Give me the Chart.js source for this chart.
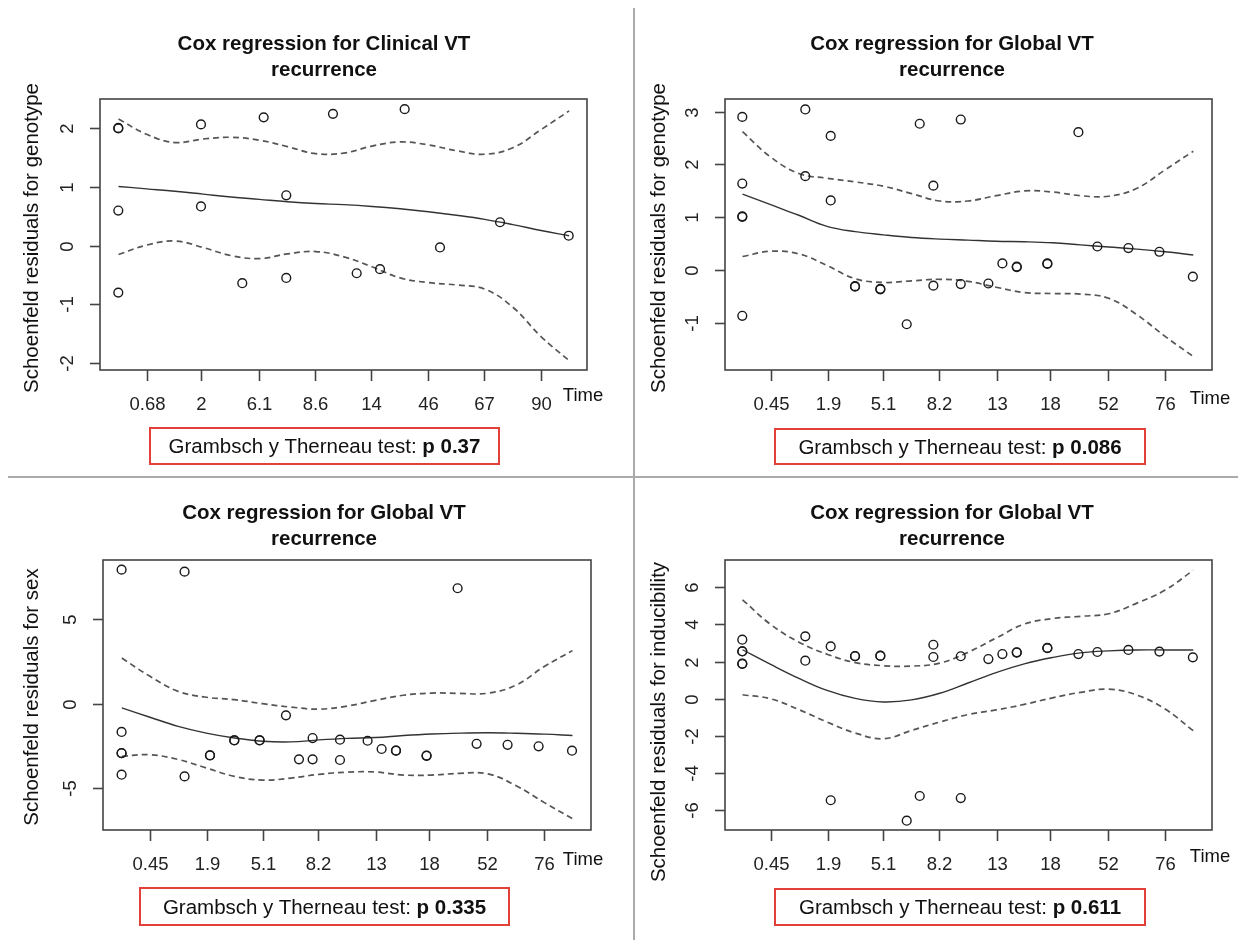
<!DOCTYPE html>
<html>
<head>
<meta charset="utf-8">
<script src="https://cdn.jsdelivr.net/npm/chart.js@4.4.1/dist/chart.umd.min.js"></script>
<style>
  body { margin: 0; background: #fff; width: 1238px; height: 940px; position: relative; overflow: hidden;
         font-family: "Liberation Sans", Arial, sans-serif; color: #111; }
  canvas { position: absolute; }
  .title { position: absolute; width: 500px; text-align: center; font-weight: bold; font-size: 20.5px; line-height: 26px; }
  .ylab { position: absolute; width: 420px; height: 24px; line-height: 24px; text-align: center; font-size: 20.5px;
          transform: rotate(-90deg); white-space: nowrap; }
  .time { position: absolute; width: 60px; height: 20px; line-height: 20px; text-align: center; font-size: 18.5px; }
  .test { position: absolute; box-sizing: border-box; border: 2px solid #e3403a; text-align: center; font-size: 20.5px;
          display: flex; align-items: center; justify-content: center; white-space: nowrap; }
  .vline { position: absolute; left: 633px; top: 8px; width: 2px; height: 932px; background: #aaa; }
  .hline { position: absolute; left: 8px; top: 476px; width: 1230px; height: 2px; background: #aaa; }
</style>
</head>
<body>
<div class="vline"></div>
<div class="hline"></div>

<canvas id="c1" width="620" height="470" style="left:0;top:0"></canvas>
<canvas id="c2" width="598" height="470" style="left:640px;top:0"></canvas>
<canvas id="c3" width="620" height="460" style="left:0;top:480px"></canvas>
<canvas id="c4" width="598" height="460" style="left:640px;top:480px"></canvas>

<div class="title" style="left:74px;top:30px">Cox regression for Clinical VT<br>recurrence</div>
<div class="title" style="left:702px;top:30px">Cox regression for Global VT<br>recurrence</div>
<div class="title" style="left:74px;top:499px">Cox regression for Global VT<br>recurrence</div>
<div class="title" style="left:702px;top:499px">Cox regression for Global VT<br>recurrence</div>

<div class="ylab" style="left:-179px;top:226px">Schoenfeld residuals for genotype</div>
<div class="ylab" style="left:448px;top:226px">Schoenfeld residuals for genotype</div>
<div class="ylab" style="left:-179px;top:685px">Schoenfeld residuals for sex</div>
<div class="ylab" style="left:448px;top:710px">Schoenfeld residuals for inducibility</div>

<div class="time" style="left:553px;top:385px">Time</div>
<div class="time" style="left:1180px;top:388px">Time</div>
<div class="time" style="left:553px;top:849px">Time</div>
<div class="time" style="left:1180px;top:846px">Time</div>

<div class="test" style="left:149px;top:427px;width:351px;height:38px">Grambsch y Therneau test:&nbsp;<b>p 0.37</b></div>
<div class="test" style="left:774px;top:428px;width:372px;height:37px">Grambsch y Therneau test:&nbsp;<b>p 0.086</b></div>
<div class="test" style="left:139px;top:887px;width:371px;height:39px">Grambsch y Therneau test:&nbsp;<b>p 0.335</b></div>
<div class="test" style="left:774px;top:888px;width:372px;height:38px">Grambsch y Therneau test:&nbsp;<b>p 0.611</b></div>

<script>
// x is the transformed time (axis position), labels are the original times
const gridX = [0.5, 1, 1.5, 2, 2.5, 3, 3.5, 4, 4.5, 5, 5.5, 6, 6.5, 7, 7.5, 8, 8.5]

// clinical VT recurrence, genotype
const clinTickPos = [1, 1.964, 2.988, 3.988, 4.977, 6.0, 6.994, 8.0]
const clinTickLabels = ['0.68', '2', '6.1', '8.6', '14', '46', '67', '90']
const clinYTicks = [-2, -1, 0, 1, 2]
const clinTime = [0.496, 0.496, 0.496, 0.496, 1.964, 1.964, 2.697, 3.077, 3.478, 3.478, 4.307, 4.728, 5.142, 5.580, 6.207, 7.273, 8.492]
const clinResid = [2.00, 2.01, 0.60, -0.80, 2.07, 0.67, -0.64, 2.19, 0.86, -0.55, 2.25, -0.47, -0.40, 2.33, -0.03, 0.40, 0.17]
const clinFit = [1.01, 0.97, 0.93, 0.88, 0.83, 0.79, 0.75, 0.72, 0.70, 0.67, 0.63, 0.58, 0.52, 0.45, 0.36, 0.26, 0.17]
const clinUpper = [2.16, 1.90, 1.76, 1.82, 1.85, 1.80, 1.69, 1.57, 1.58, 1.70, 1.77, 1.72, 1.62, 1.56, 1.67, 1.98, 2.30]
const clinLower = [-0.15, 0.01, 0.08, -0.03, -0.17, -0.22, -0.14, -0.10, -0.19, -0.36, -0.55, -0.63, -0.67, -0.74, -1.05, -1.55, -1.96]

// global VT recurrence (same event times for the three covariates)
const globTickPos = [1, 2.01, 3.0, 3.99, 5.02, 5.96, 6.98, 8.0]
const globTickLabels = ['0.45', '1.9', '5.1', '8.2', '13', '18', '52', '76']
const globTime = [0.496, 0.496, 0.496, 0.496, 0.496, 1.614, 1.614, 2.065, 2.065, 2.497, 2.497, 2.946, 2.946, 3.414, 3.645,
  3.887, 3.887, 4.373, 4.373, 4.863, 5.112, 5.367, 5.367, 5.910, 5.910, 6.461, 6.798, 7.348, 7.899, 8.492]

const genoYTicks = [-1, 0, 1, 2, 3]
const genoResid = [2.90, 1.64, 1.02, 1.01, -0.86, 3.04, 1.78, 2.54, 1.32, -0.31, -0.30, -0.36, -0.35, -1.02, 2.77,
  1.60, -0.29, 2.85, -0.26, -0.25, 0.13, 0.07, 0.06, 0.12, 0.13, 2.61, 0.45, 0.42, 0.35, -0.12]
const genoFit = [1.44, 1.24, 1.04, 0.83, 0.73, 0.67, 0.62, 0.59, 0.57, 0.55, 0.54, 0.52, 0.48, 0.44, 0.40, 0.35, 0.29]
const genoUpper = [2.62, 2.14, 1.83, 1.74, 1.67, 1.59, 1.45, 1.31, 1.31, 1.41, 1.50, 1.48, 1.41, 1.40, 1.55, 1.90, 2.25]
const genoLower = [0.26, 0.36, 0.31, 0.09, -0.16, -0.23, -0.20, -0.17, -0.21, -0.32, -0.42, -0.44, -0.45, -0.53, -0.84, -1.25, -1.63]

const sexYTicks = [-5, 0, 5]
const sexResid = [7.93, -1.67, -2.92, -2.93, -4.20, 7.81, -4.30, -3.05, -3.06, -2.17, -2.16, -2.17, -2.16, -0.69, -3.29,
  -2.03, -3.29, -2.13, -3.33, -2.19, -2.68, -2.78, -2.77, -3.08, -3.07, 6.83, -2.37, -2.43, -2.52, -2.78]
const sexFit = [-0.25, -0.80, -1.34, -1.74, -2.03, -2.22, -2.26, -2.14, -2.05, -2.00, -1.88, -1.79, -1.74, -1.72, -1.75, -1.80, -1.88]
const sexUpper = [2.70, 1.62, 0.73, 0.38, 0.24, 0.00, -0.20, -0.32, -0.14, 0.20, 0.50, 0.63, 0.61, 0.62, 1.10, 2.20, 3.14]
const sexLower = [-3.11, -3.02, -3.30, -3.80, -4.30, -4.52, -4.40, -4.18, -4.05, -4.04, -4.22, -4.22, -4.12, -4.15, -4.85, -5.85, -6.80]

const inducYTicks = [-6, -4, -2, 0, 2, 4, 6]
const inducResid = [3.18, 2.56, 2.55, 1.89, 1.88, 3.36, 2.05, 2.82, -5.46, 2.29, 2.30, 2.32, 2.31, -6.56, -5.23,
  2.91, 2.25, 2.29, -5.34, 2.14, 2.41, 2.50, 2.49, 2.73, 2.74, 2.41, 2.52, 2.63, 2.54, 2.23]
const inducFit = [2.64, 1.85, 1.10, 0.45, 0.02, -0.17, -0.06, 0.30, 0.85, 1.41, 1.88, 2.22, 2.47, 2.58, 2.63, 2.63, 2.63]
const inducUpper = [5.33, 4.00, 3.05, 2.40, 1.95, 1.78, 1.76, 1.92, 2.50, 3.27, 4.02, 4.32, 4.44, 4.58, 5.15, 5.85, 6.92]
const inducLower = [0.22, 0.00, -0.58, -1.25, -1.84, -2.15, -1.70, -1.25, -0.85, -0.60, -0.30, 0.05, 0.35, 0.52, 0.20, -0.55, -1.72]

// R-style box and axes, drawn from the chart scales
const rAxes = {
  id: 'rAxes',
  afterDatasetsDraw(chart, args, opts) {
    const { ctx, chartArea: a, scales: { x, y } } = chart
    ctx.save()
    ctx.strokeStyle = '#444'
    ctx.lineWidth = 1.6
    ctx.strokeRect(a.left, a.top, a.right - a.left, a.bottom - a.top)
    ctx.fillStyle = '#222'
    ctx.font = '18.5px "Liberation Sans", Arial, sans-serif'
    ctx.textAlign = 'center'
    ctx.textBaseline = 'middle'
    opts.xTicks.forEach((v, i) => {
      const px = Math.round(x.getPixelForValue(v)) + 0.5
      ctx.beginPath()
      ctx.moveTo(px, a.bottom)
      ctx.lineTo(px, a.bottom + 11)
      ctx.stroke()
      ctx.fillText(opts.xLabels[i], px, a.bottom + 35)
    })
    opts.yTicks.forEach((v) => {
      const py = Math.round(y.getPixelForValue(v)) + 0.5
      ctx.beginPath()
      ctx.moveTo(a.left, py)
      ctx.lineTo(a.left - 10, py)
      ctx.stroke()
      ctx.save()
      ctx.translate(a.left - 32, py)
      ctx.rotate(-Math.PI / 2)
      ctx.fillText(String(v), 0, 0)
      ctx.restore()
    })
    ctx.restore()
  },
}

const curve = (vals) => gridX.map((x, i) => ({ x, y: vals[i] }))

const makePanel = (id, p) => {
  const dashed = {
    showLine: true, pointRadius: 0, borderColor: '#555', borderWidth: 1.7,
    borderDash: [6, 4], tension: 0.4, fill: false,
  }
  return new Chart(document.getElementById(id), {
    type: 'scatter',
    data: {
      datasets: [
        {
          data: p.time.map((t, i) => ({ x: t, y: p.resid[i] })),
          pointRadius: 4.4, pointHoverRadius: 4.4, pointBorderWidth: 1.4,
          pointBorderColor: '#1a1a1a', pointBackgroundColor: 'rgba(0,0,0,0)',
        },
        { data: curve(p.fit), showLine: true, pointRadius: 0, borderColor: '#333', borderWidth: 1.4, tension: 0.4 },
        { data: curve(p.upper), ...dashed },
        { data: curve(p.lower), ...dashed },
      ],
    },
    options: {
      responsive: false,
      animation: false,
      devicePixelRatio: 1,
      layout: { padding: p.pad },
      plugins: {
        legend: { display: false },
        tooltip: { enabled: false },
        rAxes: { xTicks: p.xTicks, xLabels: p.xLabels, yTicks: p.yTicks },
      },
      scales: {
        x: { type: 'linear', display: false, min: p.xr[0], max: p.xr[1] },
        y: { type: 'linear', display: false, min: p.yr[0], max: p.yr[1] },
      },
    },
    plugins: [rAxes],
  })
}

makePanel('c1', {
  time: clinTime, resid: clinResid, fit: clinFit, upper: clinUpper, lower: clinLower,
  xTicks: clinTickPos, xLabels: clinTickLabels, yTicks: clinYTicks,
  xr: [0.171, 8.817], yr: [-2.121, 2.503],
  pad: { left: 100, top: 99, right: 33, bottom: 100 },
})
makePanel('c2', {
  time: globTime, resid: genoResid, fit: genoFit, upper: genoUpper, lower: genoLower,
  xTicks: globTickPos, xLabels: globTickLabels, yTicks: genoYTicks,
  xr: [0.189, 8.832], yr: [-1.885, 3.238],
  pad: { left: 85, top: 99, right: 26, bottom: 100 },
})
makePanel('c3', {
  time: globTime, resid: sexResid, fit: sexFit, upper: sexUpper, lower: sexLower,
  xTicks: globTickPos, xLabels: globTickLabels, yTicks: sexYTicks,
  xr: [0.166, 8.829], yr: [-7.47, 8.50],
  pad: { left: 103, top: 80, right: 29, bottom: 110 },
})
makePanel('c4', {
  time: globTime, resid: inducResid, fit: inducFit, upper: inducUpper, lower: inducLower,
  xTicks: globTickPos, xLabels: globTickLabels, yTicks: inducYTicks,
  xr: [0.189, 8.832], yr: [-7.06, 7.47],
  pad: { left: 85, top: 80, right: 26, bottom: 110 },
})
</script>
</body>
</html>
